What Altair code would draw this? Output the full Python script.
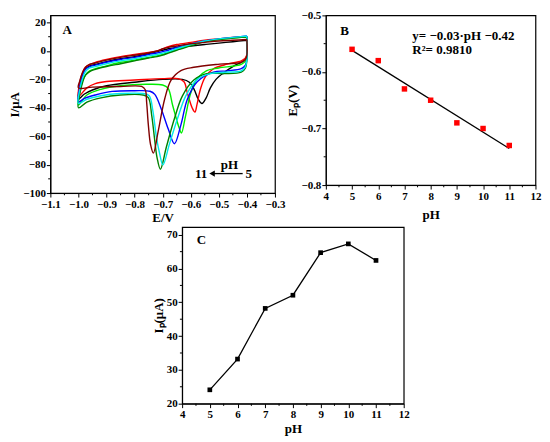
import altair as alt
import pandas as pd

FONT = "Liberation Serif"

# ---------------- Panel A: cyclic voltammograms ----------------
curve_names = ["pH 5", "pH 6", "pH 7", "pH 8", "pH 9", "pH 10", "pH 11"]
curve_colors = ["#000000", "#ff0000", "#00ee00", "#0000ff", "#008000", "#00e8e8", "#800000"]

# anodic (forward) scan, shared potential grid
an_E = [-1.0, -0.995, -0.985, -0.975, -0.96, -0.94, -0.9, -0.85, -0.8, -0.75,
        -0.72, -0.7, -0.68, -0.65, -0.6, -0.55, -0.5, -0.45, -0.4]
an_pH5 = [-34, -24, -16, -12.5, -10.5, -9.5, -7.5, -5.5, -4, -2, -0.5, 0.5, 1.5, 2.5, 3.5, 4.5, 5.5, 6.5, 7.5]
an_pH6 = [-32, -22, -15, -11.5, -9.5, -8, -6, -4, -2.5, -1, 0, 1.5, 3, 4.5, 6, 7.5, 8.5, 9.5, 10]
an_pH7 = [-38, -28, -21, -17, -14, -12.5, -10.5, -8, -6.5, -4.5, -3.5, -2.5, -1, 1, 4, 6.5, 8, 9, 10]
an_pH8 = [-36, -25, -17, -13, -11, -10, -8, -6, -4.5, -2.5, -1.5, -0.5, 0.5, 2.5, 5, 7, 8.5, 9.5, 10.5]
an_pH9 = [-40, -30, -22, -17, -14.5, -13, -11, -9, -7, -5, -4, -3, -1.5, 0.5, 3.5, 6.5, 8, 9, 10]
an_pH10 = [-37, -27, -19, -14.5, -12, -11, -9, -7, -5.5, -3.5, -2.5, -1.5, -0.5, 1.5, 4.5, 7, 8.5, 9.5, 10.5]
an_pH11 = [-26, -21, -15, -11.5, -9.5, -8.5, -6.5, -4.5, -3, -1.5, 0, 1.5, 2.5, 3.5, 5, 6, 7, 7.5, 8]

# cathodic (reverse) scan, from -0.4 V to -1.0 V
ca_E_pH5 = [-0.4, -0.4, -0.405, -0.42, -0.45, -0.48, -0.51, -0.53, -0.545, -0.56, -0.573, -0.588, -0.605, -0.63, -0.7, -0.8, -0.9, -0.95, -0.98, -1.0]
ca_I_pH5 = [7.5, -3, -6, -8, -11, -15, -20, -26, -33, -37, -34, -27, -22, -20, -20, -22, -24.5, -27.5, -30.5, -34]
ca_E_pH6 = [-0.4, -0.4, -0.405, -0.42, -0.47, -0.52, -0.548, -0.566, -0.578, -0.585, -0.595, -0.612, -0.624, -0.645, -0.7, -0.8, -0.9, -0.94, -0.97, -1.0]
ca_I_pH6 = [10, -2, -5, -7, -9.3, -12.7, -18.3, -27.3, -38, -43, -40, -29.6, -21.7, -19.5, -19.5, -20.5, -21.5, -23, -26, -32]
ca_E_pH7 = [-0.4, -0.4, -0.405, -0.42, -0.5, -0.543, -0.577, -0.6, -0.618, -0.633, -0.641, -0.664, -0.681, -0.7, -0.76, -0.85, -0.92, -0.97, -1.0]
ca_I_pH7 = [10, -3, -7, -9.5, -12, -13.8, -19.4, -29.6, -45.3, -57.7, -54.3, -38.6, -26.2, -24, -23.5, -24.5, -27, -31, -38]
ca_E_pH8 = [-0.4, -0.4, -0.405, -0.42, -0.47, -0.519, -0.577, -0.612, -0.635, -0.658, -0.68, -0.705, -0.728, -0.745, -0.8, -0.88, -0.94, -0.98, -1.0]
ca_I_pH8 = [10.5, -5, -10, -12.5, -14, -14.9, -21.7, -34, -52, -65.3, -55, -40.8, -30.6, -28.4, -28, -28.5, -31, -33.5, -36]
ca_E_pH9 = [-0.4, -0.4, -0.405, -0.42, -0.48, -0.543, -0.589, -0.63, -0.658, -0.687, -0.708, -0.72, -0.728, -0.739, -0.751, -0.77, -0.85, -0.92, -0.97, -1.0]
ca_I_pH9 = [10, -6, -12, -15, -16, -16, -20.5, -31.8, -47.6, -67.8, -83.2, -75, -63.3, -45.3, -32.9, -31, -31, -33, -36, -40]
ca_E_pH10 = [-0.4, -0.4, -0.405, -0.42, -0.48, -0.53, -0.577, -0.618, -0.647, -0.676, -0.699, -0.711, -0.722, -0.735, -0.748, -0.77, -0.85, -0.92, -0.97, -1.0]
ca_I_pH10 = [10.5, -6, -11, -14, -15, -16, -20, -31.8, -47.6, -65.6, -80.2, -72, -61, -42, -31.5, -30, -30, -31.5, -34, -37]
ca_E_pH11 = [-0.4, -0.4, -0.405, -0.42, -0.497, -0.589, -0.635, -0.67, -0.693, -0.716, -0.733, -0.743, -0.751, -0.757, -0.762, -0.775, -0.85, -0.95, -1.0]
ca_I_pH11 = [8, -3, -6, -8, -9.3, -11.5, -13.8, -20.5, -34, -56.6, -71.9, -66, -52, -36.3, -27.3, -25, -25, -25.5, -26]

an_all = [an_pH5, an_pH6, an_pH7, an_pH8, an_pH9, an_pH10, an_pH11]
ca_all = [(ca_E_pH5, ca_I_pH5), (ca_E_pH6, ca_I_pH6), (ca_E_pH7, ca_I_pH7), (ca_E_pH8, ca_I_pH8),
          (ca_E_pH9, ca_I_pH9), (ca_E_pH10, ca_I_pH10), (ca_E_pH11, ca_I_pH11)]

rows = []
for name, an_I, (cE, cI) in zip(curve_names, an_all, ca_all):
    k = 0
    for e, i in zip(cE, cI):
        rows.append({"curve": name, "E": e, "I": i, "idx": k}); k += 1
    for e, i in zip(an_E[1:], an_I[1:]):
        rows.append({"curve": name, "E": e, "I": i, "idx": k}); k += 1
dfA = pd.DataFrame(rows)

# arrow annotation "11 <- pH 5"
ann_labels = ["11", "pH", "5"]
ann_E = [-0.563, -0.462, -0.393]
ann_I = [-86.5, -80.5, -86.5]
dfAnn = pd.DataFrame({"E": ann_E, "I": ann_I, "t": ann_labels})
dfArrow = pd.DataFrame({"E": [-0.415], "E2": [-0.52], "I": [-86.3]})
dfHead = pd.DataFrame({"E": [-0.524], "I": [-86.3]})

# ---------------- Panel B: peak potential vs pH ----------------
pH_vals = [5, 6, 7, 8, 9, 10, 11]
Ep_vals = [-0.56, -0.58, -0.63, -0.65, -0.69, -0.70, -0.73]
dfB = pd.DataFrame({"pH": pH_vals, "Ep": Ep_vals})

# ---------------- Panel C: peak current vs pH ----------------
Ip_vals = [24.1, 33.2, 48.2, 52.1, 64.7, 67.3, 62.4]
dfC = pd.DataFrame({"pH": pH_vals, "Ip": Ip_vals})

# tick positions
A_x_major = [-1.1, -1.0, -0.9, -0.8, -0.7, -0.6, -0.5, -0.4, -0.3]
A_x_minor = [-1.05, -0.95, -0.85, -0.75, -0.65, -0.55, -0.45, -0.35]
A_y_major = [-100, -80, -60, -40, -20, 0, 20]
A_y_minor = [-90, -70, -50, -30, -10, 10]
pH_major = [4, 5, 6, 7, 8, 9, 10, 11, 12]
pH_minor = [4.5, 5.5, 6.5, 7.5, 8.5, 9.5, 10.5, 11.5]
B_y_major = [-0.8, -0.7, -0.6, -0.5]
B_y_minor = [-0.75, -0.65, -0.55]
C_y_major = [20, 30, 40, 50, 60, 70]
C_y_minor = [25, 35, 45, 55, 65]

WA, HA = 225, 178
WB, HB = 210, 170
WC, HC = 222, 177
MINOR = 2.2

label_style = dict(font=FONT, fontWeight="bold", fontSize=13, color="black")


def ax(title, values, fmt, tpad=2):
    return alt.Axis(title=title, values=values, format=fmt, labelOverlap=False,
                    labelFlush=False, titlePadding=tpad)


def minor_x(vals, field, enc_x, h):
    return alt.Chart(pd.DataFrame({field: vals})).mark_rule(color="black", strokeWidth=1).encode(
        x=enc_x, y=alt.value(h), y2=alt.value(h + MINOR))


def minor_y(vals, field, enc_y):
    return alt.Chart(pd.DataFrame({field: vals})).mark_rule(color="black", strokeWidth=1).encode(
        y=enc_y, x=alt.value(0), x2=alt.value(-MINOR))


# ----- A -----
xA = alt.X("E:Q", scale=alt.Scale(domain=[-1.1, -0.3], nice=False, zero=False),
           axis=ax("E/V", A_x_major, ".1f"))
yA = alt.Y("I:Q", scale=alt.Scale(domain=[-100, 25], nice=False, zero=False),
           axis=ax("I/μA", A_y_major, "d", 1))

cvs = alt.Chart(dfA).mark_line(strokeWidth=1.4, interpolate="catmull-rom").encode(
    x=xA, y=yA,
    color=alt.Color("curve:N", scale=alt.Scale(domain=curve_names, range=curve_colors), legend=None),
    detail="curve:N",
    order="idx:Q",
)
ann = alt.Chart(dfAnn).mark_text(**label_style).encode(x=xA, y=yA, text="t:N")
arr = alt.Chart(dfArrow).mark_rule(color="black", strokeWidth=1.3).encode(x=xA, x2="E2:Q", y=yA)
head = alt.Chart(dfHead).mark_point(shape="triangle-left", filled=True, color="black", size=40, opacity=1).encode(x=xA, y=yA)
labA = alt.Chart(pd.DataFrame({"E": [-1.04], "I": [14.5], "t": ["A"]})).mark_text(**label_style).encode(
    x=xA, y=yA, text="t:N")
A = alt.layer(cvs, ann, arr, head, labA,
              minor_x(A_x_minor, "E", xA, HA), minor_y(A_y_minor, "I", yA)).properties(width=WA, height=HA)

# ----- B -----
xB = alt.X("pH:Q", scale=alt.Scale(domain=[4, 12], nice=False, zero=False), axis=ax("pH", pH_major, "d", 7))
yB = alt.Y("Ep:Q", scale=alt.Scale(domain=[-0.8, -0.5], nice=False, zero=False), axis=ax("Eₚ(V)", B_y_major, ".1f", 1))
fit = alt.Chart(dfB).transform_regression("pH", "Ep").mark_line(color="black", strokeWidth=1.3).encode(x=xB, y=yB)
ptsB = alt.Chart(dfB).mark_point(shape="square", filled=True, color="#ff0000", size=30, opacity=1).encode(x=xB, y=yB)
txtB = alt.Chart(pd.DataFrame({"pH": [4.55, 7.3, 7.3], "Ep": [-0.527, -0.5365, -0.562],
                               "t": ["B", "y= \u22120.03\u00b7pH \u22120.42", "R\u00b2= 0.9810"]})).mark_text(
    align="left", **label_style).encode(x=xB, y=yB, text="t:N")
B = alt.layer(fit, ptsB, txtB, minor_x(pH_minor, "pH", xB, HB), minor_y(B_y_minor, "Ep", yB)).properties(
    width=WB, height=HB)

# ----- C -----
xC = alt.X("pH:Q", scale=alt.Scale(domain=[4, 12], nice=False, zero=False), axis=ax("pH", pH_major, "d", 3))
yC = alt.Y("Ip:Q", scale=alt.Scale(domain=[20, 72.3], nice=False, zero=False), axis=ax("Iₚ(μA)", C_y_major, "d", 1))
lineC = alt.Chart(dfC).mark_line(color="black", strokeWidth=1.3).encode(x=xC, y=yC)
ptsC = alt.Chart(dfC).mark_point(shape="square", filled=True, color="black", size=22, opacity=1).encode(x=xC, y=yC)
labC = alt.Chart(pd.DataFrame({"pH": [4.7], "Ip": [68.3], "t": ["C"]})).mark_text(**label_style).encode(
    x=xC, y=yC, text="t:N")
C = alt.layer(lineC, ptsC, labC, minor_x(pH_minor, "pH", xC, HC), minor_y(C_y_minor, "Ip", yC)).properties(
    width=WC, height=HC)

top = alt.hconcat(A, B, spacing=0)
chart = alt.vconcat(top, C, spacing=1, center=True).properties(padding=0).configure_axis(
    labelFont=FONT, labelFontWeight="bold", labelFontSize=11, labelColor="black",
    titleFont=FONT, titleFontWeight="bold", titleFontSize=13, titleColor="black",
    tickColor="black", tickSize=4, tickWidth=1, labelPadding=1,
    domainColor="black", grid=False,
).configure_view(stroke="black", strokeWidth=1.2)

chart.save("out.html", embed_options={"renderer": "svg", "actions": False})
